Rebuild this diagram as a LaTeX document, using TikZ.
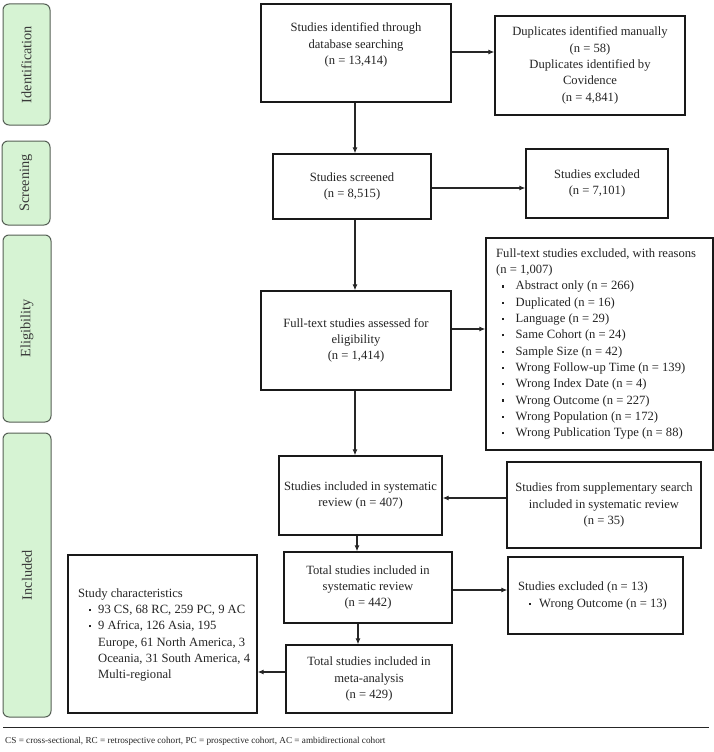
\documentclass[tikz,border=0pt]{standalone}
\usepackage{fontspec}
\setmainfont{Liberation Serif}
\usetikzlibrary{arrows.meta}
\definecolor{phasefill}{RGB}{214,243,211}
\definecolor{phaseline}{RGB}{85,95,85}
\definecolor{txtcol}{RGB}{35,35,35}
\newcommand\itm[3]{\hspace*{#1}\makebox[#2][l]{\raisebox{2.4pt}{\rule{2.2pt}{2.2pt}}}#3}
\tikzset{
  phase/.style={draw=phaseline, fill=phasefill, line width=1pt, rounded corners=6pt, inner sep=0pt},
  phasetxt/.style={rotate=90, font=\fontsize{14.3}{16}\selectfont, text=txtcol!90},
  box/.style={draw=black!90, line width=1.3pt, inner sep=0pt, text=txtcol},
  txt/.style={font=\fontsize{12.6}{16.3}\selectfont, text=txtcol, align=center, inner sep=0pt},
  ltxt/.style={font=\fontsize{12.6}{16.3}\selectfont, text=txtcol, align=left, inner sep=0pt},
  arr/.style={draw=black!85, line width=1.1pt, -{Latex[length=6pt,width=5pt]}},
}
\begin{document}
\begin{tikzpicture}[x=1pt,y=-1pt]
\useasboundingbox (0,0) rectangle (714,752);
% phases
\node[phase, minimum width=47pt, minimum height=121pt] (p1) at (26.5,64.5) {};
\node[phasetxt] at (p1) {Identification};
\node[phase, minimum width=48pt, minimum height=84pt] (p2) at (26,183) {};
\node[phasetxt] at (p2) {Screening};
\node[phase, minimum width=48pt, minimum height=187pt] (p3) at (27,328.5) {};
\node[phasetxt] at (p3) {Eligibility};
\node[phase, minimum width=48pt, minimum height=284pt] (p4) at (27,575) {};
\node[phasetxt] at (p4) {Included};
% main boxes
\node[box, minimum width=190pt, minimum height=98pt] (b1) at (356,53) {};
\node[txt] (b1t) at (356,45) {Studies identified through\\database searching\\(n = 13,414)};
\node[box, txt, minimum width=190pt, minimum height=99pt] (dup) at (590,65.5) {Duplicates identified manually\\(n = 58)\\Duplicates identified by\\Covidence\\(n = 4,841)};
\node[box, txt, minimum width=158pt, minimum height=65pt] (scr) at (352,186.5) {Studies screened\\(n = 8,515)};
\node[box, txt, minimum width=142pt, minimum height=69pt] (exc) at (597,183.5) {Studies excluded\\(n = 7,101)};
\node[box, txt, minimum width=190pt, minimum height=99pt] (ft) at (356,340.5) {Full-text studies assessed for\\eligibility\\(n = 1,414)};
\node[box, minimum width=227pt, minimum height=212pt] (ftx) at (599.5,344) {};
\node[ltxt, anchor=west] (ftxt) at (496,344) {Full-text studies excluded, with reasons\\(n = 1,007)\\
\itm{6pt}{13.5pt}{Abstract only (n = 266)}\\
\itm{6pt}{13.5pt}{Duplicated (n = 16)}\\
\itm{6pt}{13.5pt}{Language (n = 29)}\\
\itm{6pt}{13.5pt}{Same Cohort (n = 24)}\\
\itm{6pt}{13.5pt}{Sample Size (n = 42)}\\
\itm{6pt}{13.5pt}{Wrong Follow-up Time (n = 139)}\\
\itm{6pt}{13.5pt}{Wrong Index Date (n = 4)}\\
\itm{6pt}{13.5pt}{Wrong Outcome (n = 227)}\\
\itm{6pt}{13.5pt}{Wrong Population (n = 172)}\\
\itm{6pt}{13.5pt}{Wrong Publication Type (n = 88)}};
\node[box, txt, minimum width=163pt, minimum height=79pt] (inc) at (360.5,495.5) {Studies included in systematic\\review (n = 407)};
\node[box, txt, minimum width=194pt, minimum height=86pt] (sup) at (604,505) {Studies from supplementary search\\included in systematic review\\(n = 35)};
\node[box, txt, minimum width=168pt, minimum height=71pt] (tot) at (368,587.5) {Total studies included in\\systematic review\\(n = 442)};
\node[box, minimum width=175pt, minimum height=77pt] (ex13) at (595.5,595.5) {};
\node[ltxt, anchor=west] (ex13t) at (518,596) {Studies excluded (n = 13)\\\itm{11pt}{10pt}{Wrong Outcome (n = 13)}};
\node[box, txt, minimum width=166pt, minimum height=68pt] (meta) at (369,679) {Total studies included in\\meta-analysis\\(n = 429)};
\node[box, minimum width=189pt, minimum height=158pt] (chr) at (162.5,634) {};
\node[ltxt, anchor=west] (chrt) at (78,635) {Study characteristics\\
\itm{11pt}{9pt}{93 CS, 68 RC, 259 PC, 9 AC}\\
\itm{11pt}{9pt}{9 Africa, 126 Asia, 195}\\
\hspace*{20pt}Europe, 61 North America, 3\\
\hspace*{20pt}Oceania, 31 South America, 4\\
\hspace*{20pt}Multi-regional};
% arrows
\draw[arr] (b1.south -| 355,0) -- (scr.north -| 355,0);
\draw[arr] (b1.east |- 0,52) -- (dup.west |- 0,52);
\draw[arr] (scr.east |- 0,188) -- (exc.west |- 0,188);
\draw[arr] (scr.south -| 355,0) -- (ft.north -| 355,0);
\draw[arr] (ft.east |- 0,329) -- (ftx.west |- 0,329);
\draw[arr] (ft.south -| 355,0) -- (inc.north -| 355,0);
\draw[arr] (sup.west |- 0,498) -- (inc.east |- 0,498);
\draw[arr] (inc.south -| 357,0) -- (tot.north -| 357,0);
\draw[arr] (tot.east |- 0,590) -- (ex13.west |- 0,590);
\draw[arr] (tot.south -| 358,0) -- (meta.north -| 358,0);
\draw[arr] (meta.west |- 0,672) -- (chr.east |- 0,672);
% footnote
\coordinate (hl1) at (3,727);
\coordinate (hl2) at (709,727);
\draw[black!85, line width=0.9pt] (hl1) -- (hl2);
\node[font=\fontsize{9.2}{11}\selectfont, text=txtcol, anchor=west, inner sep=0pt] (fn) at (5,741) {CS = cross-sectional, RC = retrospective cohort, PC = prospective cohort, AC = ambidirectional cohort};
\end{tikzpicture}
\end{document}
